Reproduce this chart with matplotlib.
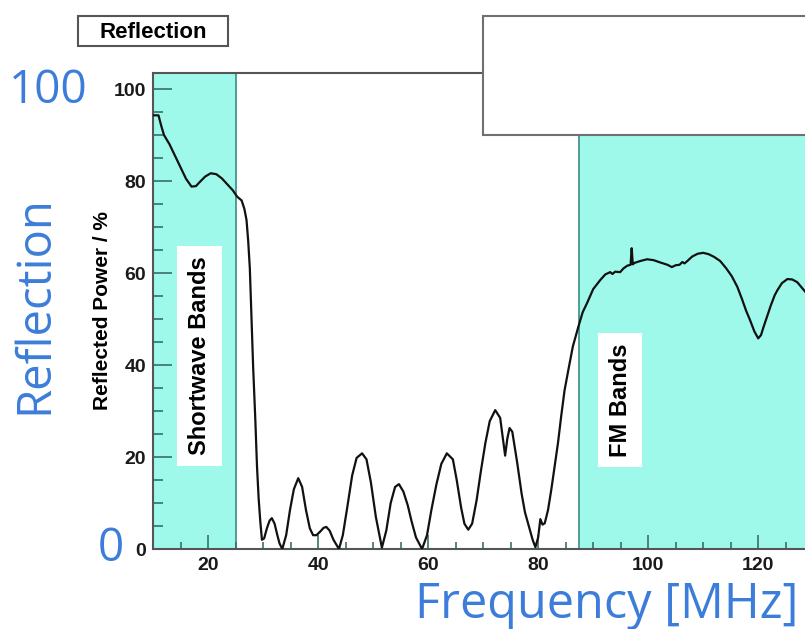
import matplotlib
matplotlib.use("Agg")
import matplotlib.pyplot as plt
from matplotlib.patches import Rectangle
from matplotlib.ticker import MultipleLocator

# reflected power vs frequency
freq = [10.0, 11.0, 11.5, 12.0, 13.0, 14.0, 15.0, 16.0, 17.0, 17.8, 18.5, 19.5, 20.5, 21.5,
        22.5, 23.5, 24.5, 25.3, 26.1, 26.6, 27.0, 27.3, 27.6, 27.9, 28.2, 28.6, 28.9, 29.2,
        29.5, 29.8, 30.2, 30.7, 31.2, 31.6, 32.1, 32.6, 33.0, 33.5, 34.2, 34.9, 35.6, 36.4,
        37.1, 37.8, 38.5, 39.1, 39.7, 40.4, 41.0, 41.5, 42.1, 42.8, 43.8, 44.5, 45.3, 46.2,
        47.0, 48.0, 48.8, 49.6, 50.5, 51.6, 52.4, 53.2, 54.0, 54.7, 55.5, 56.3, 57.0, 57.8,
        58.9, 59.8, 60.6, 61.5, 62.4, 63.4, 64.5, 65.2, 66.0, 66.6, 67.3, 68.0, 68.8, 69.6,
        70.4, 71.2, 72.2, 73.1, 73.6, 74.0, 74.4, 74.8, 75.3, 76.2, 77.0, 77.6, 78.3, 79.0,
        79.5, 80.0, 80.4, 80.8, 81.2, 81.8, 82.4, 83.0, 83.6, 84.2, 84.8, 85.5, 86.3, 87.3,
        88.1, 88.9, 90.0, 91.3, 92.2, 93.1, 93.5, 94.0, 94.9, 95.5, 96.2, 96.8, 97.0, 97.2,
        97.5, 98.5, 99.8, 101.0, 102.2, 103.5, 104.3, 105.0, 105.7, 106.2, 106.6, 107.1,
        108.0, 109.0, 110.0, 111.0, 112.0, 113.1, 114.2, 115.2, 116.2, 117.0, 117.8, 118.5,
        119.3, 120.0, 120.5, 121.0, 121.6, 122.3, 123.0, 123.5, 124.3, 125.3, 126.2, 127.1,
        128.5]
refl = [94.3, 94.3, 92.0, 90.0, 88.0, 85.5, 83.0, 80.5, 78.8, 78.9, 79.8, 81.0, 81.7, 81.5,
        80.6, 79.3, 78.0, 76.6, 75.8, 74.0, 71.5, 67.0, 61.0, 50.0, 39.6, 28.0, 18.0, 11.0,
        6.0, 2.0, 2.3, 4.5, 6.2, 6.7, 5.5, 3.0, 1.2, 0.0, 3.0, 8.5, 13.0, 15.4,
        13.5, 8.5, 4.5, 3.0, 3.0, 3.8, 4.6, 4.8, 4.0, 2.0, 0.0, 3.0, 9.0, 16.0,
        19.8, 20.8, 19.5, 14.5, 7.0, 0.3, 4.0, 10.0, 13.5, 14.1, 12.5, 9.5, 6.0, 2.5,
        0.0, 3.0, 8.5, 14.0, 18.5, 20.8, 19.5, 15.0, 9.0, 5.5, 4.2, 5.5, 10.5, 17.0,
        23.0, 27.8, 30.2, 28.5, 24.0, 20.3, 24.0, 26.3, 25.5, 18.7, 12.0, 8.0, 5.0, 2.0,
        0.4, 2.5, 6.5, 5.3, 5.6, 8.5, 13.0, 18.0, 23.0, 29.0, 34.5, 39.0, 44.0, 48.3,
        51.5, 53.5, 56.5, 58.5, 59.7, 60.2, 59.8, 60.3, 60.2, 61.0, 61.6, 61.8, 65.4, 61.9,
        62.2, 62.6, 63.0, 62.8, 62.3, 61.8, 61.3, 61.7, 61.8, 62.4, 62.1, 62.6,
        63.6, 64.2, 64.4, 64.1, 63.5, 62.6, 61.0, 59.3, 57.0, 54.5, 51.8, 49.8,
        47.3, 45.8, 46.5, 48.4, 50.5, 53.0, 55.2, 56.3, 57.8, 58.7, 58.6, 58.0,
        56.0]

shortwave_band = (10, 25)
fm_band = (87.5, 140)

W, H = 805, 629
fig = plt.figure(figsize=(W / 100, H / 100), dpi=100)
ax = fig.add_axes([153 / W, 1 - 549 / H, (W - 153) / W, (549 - 73) / H])

cyan = "#9ff9ea"
teal = "#3a8c88"
ax.axvspan(*shortwave_band, color=cyan, zorder=0, lw=0)
ax.axvspan(*fm_band, color=cyan, zorder=0, lw=0)
ax.axvline(shortwave_band[1], color=teal, lw=1.2, zorder=1)
ax.axvline(fm_band[0], color=teal, lw=1.2, zorder=1)

ax.plot(freq, refl, color="#111111", lw=1.6, zorder=3, solid_joinstyle="round")

ax.set_xlim(10, 128.5)
ax.set_ylim(0, 103.5)

ax.xaxis.set_major_locator(MultipleLocator(20))
ax.xaxis.set_minor_locator(MultipleLocator(5))
ax.yaxis.set_major_locator(MultipleLocator(20))
ax.yaxis.set_minor_locator(MultipleLocator(5))
ax.tick_params(axis="y", which="major", direction="in", length=14, width=1.2, color="#3a6f6a", pad=5)
ax.tick_params(axis="y", which="minor", direction="in", length=7, width=1.2, color="#3a6f6a")
ax.tick_params(axis="x", which="major", direction="in", length=10, width=1.2, color="#3a6f6a", pad=6)
ax.tick_params(axis="x", which="minor", direction="in", length=5, width=1.2, color="#3a6f6a")
for lab in ax.get_xticklabels() + ax.get_yticklabels():
    lab.set_fontfamily("Liberation Sans")
    lab.set_fontweight("bold")
    lab.set_fontsize(14)
    lab.set_color("#1a1a1a")

ax.spines["right"].set_visible(False)
for s in ["left", "bottom", "top"]:
    ax.spines[s].set_color("#555555")
    ax.spines[s].set_linewidth(1.5)

ax.set_ylabel("Reflected Power / %", fontfamily="Liberation Sans", fontweight="bold",
              fontsize=15, labelpad=1)

band_box = dict(boxstyle="square,pad=0.45", fc="white", ec="none")
ax.text(18.45, 42, "Shortwave Bands", rotation=90, ha="center", va="center",
        fontfamily="Liberation Sans", fontweight="bold", fontsize=17, bbox=band_box, zorder=4)
ax.text(94.9, 32.4, "FM Bands", rotation=90, ha="center", va="center",
        fontfamily="Liberation Sans", fontweight="bold", fontsize=17, bbox=band_box, zorder=4)

# title box and empty stats box
fig.add_artist(Rectangle((78 / W, 1 - 46 / H), 150 / W, 30 / H, transform=fig.transFigure,
                         fc="white", ec="#555555", lw=1.5, zorder=5))
fig.text(153 / W, 1 - 32 / H, "Reflection", ha="center", va="center",
         fontfamily="Liberation Sans", fontweight="bold", fontsize=16, zorder=6)
fig.add_artist(Rectangle((483 / W, 1 - 135 / H), (W - 483) / W + 0.01, 119 / H,
                         transform=fig.transFigure, fc="white", ec="#707070", lw=1.5, zorder=5))

# big blue annotations
blue = "#3c7dd9"
fig.text(48 / W, 1 - 91 / H, "100", ha="center", va="center", color=blue,
         fontfamily="Open Sans", fontsize=33)
fig.text(111 / W, 1 - 549 / H, "0", ha="center", va="center", color=blue,
         fontfamily="Open Sans", fontsize=33)
fig.text(35 / W, 1 - 305 / H, "Reflection", rotation=90, ha="center", va="center",
         color=blue, fontfamily="Open Sans", fontsize=34)
fig.text(607 / W, 1 - 605 / H, "Frequency [MHz]", ha="center", va="center", color=blue,
         fontfamily="Open Sans", fontsize=35)

fig.savefig("out.png", dpi=100)
